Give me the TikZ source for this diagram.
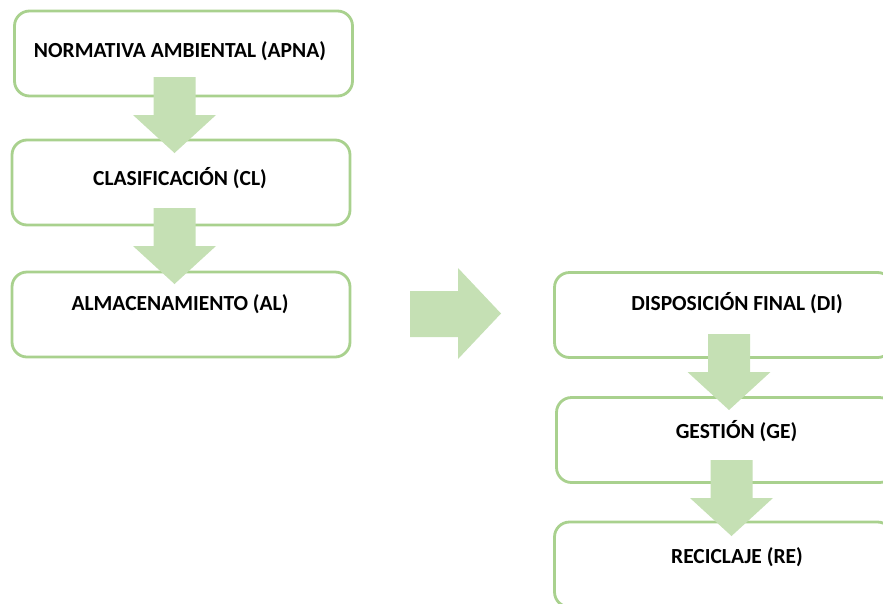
\documentclass[tikz,border=0pt]{standalone}
\usepackage{fontspec}
\setmainfont{Carlito}
\definecolor{boxline}{HTML}{A9D18E}
\definecolor{arrowfill}{HTML}{C5E0B4}
\begin{document}
\begin{tikzpicture}[x=1pt,y=-1pt,
  stepbox/.style={draw=boxline, line width=2.8pt, rounded corners=15pt, fill=white,
    minimum width=338pt, minimum height=85pt, inner sep=0pt},
  label/.style={anchor=base, inner sep=0pt, font=\fontsize{21.5}{26}\selectfont\bfseries},
  downarrow/.pic={\fill[arrowfill] (-21,0) -- (21,0) -- (21,38) -- (41.5,38) -- (0,76) -- (-41.5,38) -- (-21,38) -- cycle;}
]
\useasboundingbox (0,0) rectangle (883,603);
\clip (0,0) rectangle (883,603);
% left column
\node[stepbox] (apna) at (183.5,53.5) {};
\node[stepbox] (cl) at (181,182.5) {};
\node[stepbox] (al) at (181,314.5) {};
% right column
\node[stepbox] (di) at (723.5,315) {};
\node[stepbox] (ge) at (725.5,440) {};
\node[stepbox] (re) at (723.5,564.5) {};
% block arrows
\pic at (174.5,77) {downarrow};
\pic at (174.5,208) {downarrow};
\pic at (729,334) {downarrow};
\pic at (731.5,460) {downarrow};
\fill[arrowfill] (410,291) -- (458,291) -- (458,268) -- (501,313.5) -- (458,359) -- (458,337) -- (410,337) -- cycle;
% texts
\node[label] (tapna) at (180,57) {NORMATIVA AMBIENTAL (APNA)};
\node[label] (tcl) at (180,185) {CLASIFICACIÓN (CL)};
\node[label] (tal) at (180,310) {ALMACENAMIENTO (AL)};
\node[label] (tdi) at (737,310) {DISPOSICIÓN FINAL (DI)};
\node[label] (tge) at (736.5,438) {GESTIÓN (GE)};
\node[label] (tre) at (737,563) {RECICLAJE (RE)};
\end{tikzpicture}
\end{document}
